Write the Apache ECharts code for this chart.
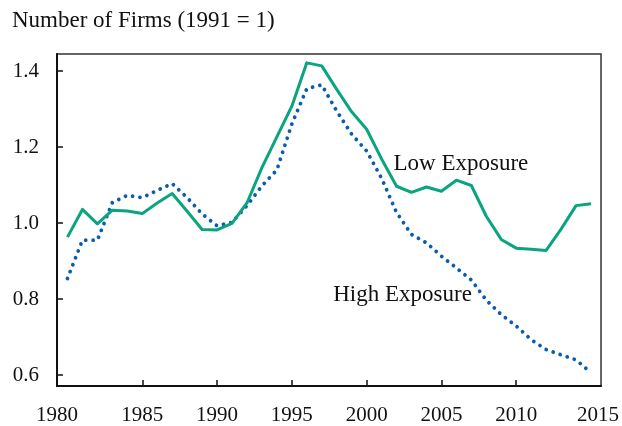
<!DOCTYPE html>
<html>
<head>
<meta charset="utf-8">
<script src="https://cdn.jsdelivr.net/npm/echarts@6/dist/echarts.min.js"></script>
<style>
  html, body { margin: 0; padding: 0; background: #fff; }
  #chart { width: 622px; height: 426px; }
</style>
</head>
<body>
<div id="chart"></div>
<script>
// years 1980..2015
var years = [1980,1981,1982,1983,1984,1985,1986,1987,1988,1989,
             1990,1991,1992,1993,1994,1995,1996,1997,1998,1999,
             2000,2001,2002,2003,2004,2005,2006,2007,2008,2009,
             2010,2011,2012,2013,2014,2015];
var lowExposure = [0.963,1.036,0.998,1.034,1.032,1.025,1.053,1.078,1.031,0.983,
                   0.982,0.999,1.053,1.146,1.227,1.308,1.422,1.414,1.352,1.293,
                   1.247,1.169,1.097,1.081,1.095,1.084,1.113,1.099,1.018,0.957,
                   0.934,0.931,0.928,0.984,1.046,1.051];
var highExposure = [0.854,0.955,0.955,1.054,1.073,1.067,1.086,1.104,1.067,1.024,
                    0.993,1.002,1.046,1.098,1.140,1.261,1.354,1.364,1.295,1.234,
                    1.190,1.118,1.028,0.970,0.948,0.913,0.882,0.850,0.797,0.759,
                    0.729,0.693,0.667,0.653,0.640,0.606];
var xTicks = [1985,1990,1995,2000,2005,2010];
var xLabels = [1980,1985,1990,1995,2000,2005,2010,2015];
var yTicks = [0.6,0.8,1.0,1.2,1.4];

var font = 'Liberation Serif';
var chart = echarts.init(document.getElementById('chart'));

function pairs(vals){
  var out = [];
  for (var i = 0; i < years.length; i++) out.push([years[i], vals[i]]);
  return out;
}

var option = {
  animation: false,
  title: {
    text: 'Number of Firms (1991 = 1)',
    left: 7, top: 4,
    textStyle: { fontFamily: font, fontSize: 23, fontWeight: 'normal', color: '#111' }
  },
  grid: {
    left: 57, right: 19, top: 54, bottom: 39,
    show: true, borderColor: '#333', borderWidth: 1.5, backgroundColor: 'transparent'
  },
  xAxis: {
    type: 'value', min: 1979.3, max: 2015.67,
    axisLine: { show: true, lineStyle: { color: '#111', width: 2 } },
    axisTick: { show: true, inside: true, length: 6, customValues: xTicks, lineStyle: { color: '#111', width: 1.5 } },
    splitLine: { show: false },
    axisLabel: {
      customValues: xLabels, margin: 19,
      fontFamily: font, fontSize: 21, color: '#111',
      formatter: function(v){
        if (v === 1980) return '{l|1980}';
        if (v === 2015) return '{r|2015}';
        return '{n|' + v + '}';
      },
      rich: {
        l: { fontFamily: font, fontSize: 21, color: '#111', padding: [0, 21, 0, 0] },
        r: { fontFamily: font, fontSize: 21, color: '#111', padding: [0, 0, 0, 14] },
        n: { fontFamily: font, fontSize: 21, color: '#111' }
      }
    }
  },
  yAxis: {
    type: 'value', min: 0.571, max: 1.4453,
    axisLine: { show: true, lineStyle: { color: '#111', width: 2 } },
    axisTick: { show: true, inside: true, length: 6, customValues: yTicks, lineStyle: { color: '#111', width: 1.5 } },
    splitLine: { show: false },
    axisLabel: {
      customValues: yTicks, margin: 18,
      fontFamily: font, fontSize: 21, color: '#111',
      formatter: function(v){ return v.toFixed(1); }
    }
  },
  series: [
    {
      name: 'Low Exposure', type: 'line', data: pairs(lowExposure),
      symbol: 'none', z: 3,
      lineStyle: { color: '#0aa47f', width: 3, join: 'round' },
      markPoint: {
        symbol: 'circle', symbolSize: 0,
        label: { show: true, formatter: '{b}', fontFamily: font, fontSize: 23, color: '#111' },
        data: [{ name: 'Low Exposure', coord: [2006.3, 1.156] }]
      }
    },
    {
      name: 'High Exposure', type: 'line', data: pairs(highExposure),
      symbol: 'none', z: 2,
      lineStyle: { color: '#0a5cb0', width: 3.8, type: [0.01, 7.4], cap: 'round', join: 'round' },
      markPoint: {
        symbol: 'circle', symbolSize: 0,
        label: { show: true, formatter: '{b}', fontFamily: font, fontSize: 23, color: '#111' },
        data: [{ name: 'High Exposure', coord: [2002.4, 0.8105] }]
      }
    }
  ]
};
chart.setOption(option);
</script>
</body>
</html>
